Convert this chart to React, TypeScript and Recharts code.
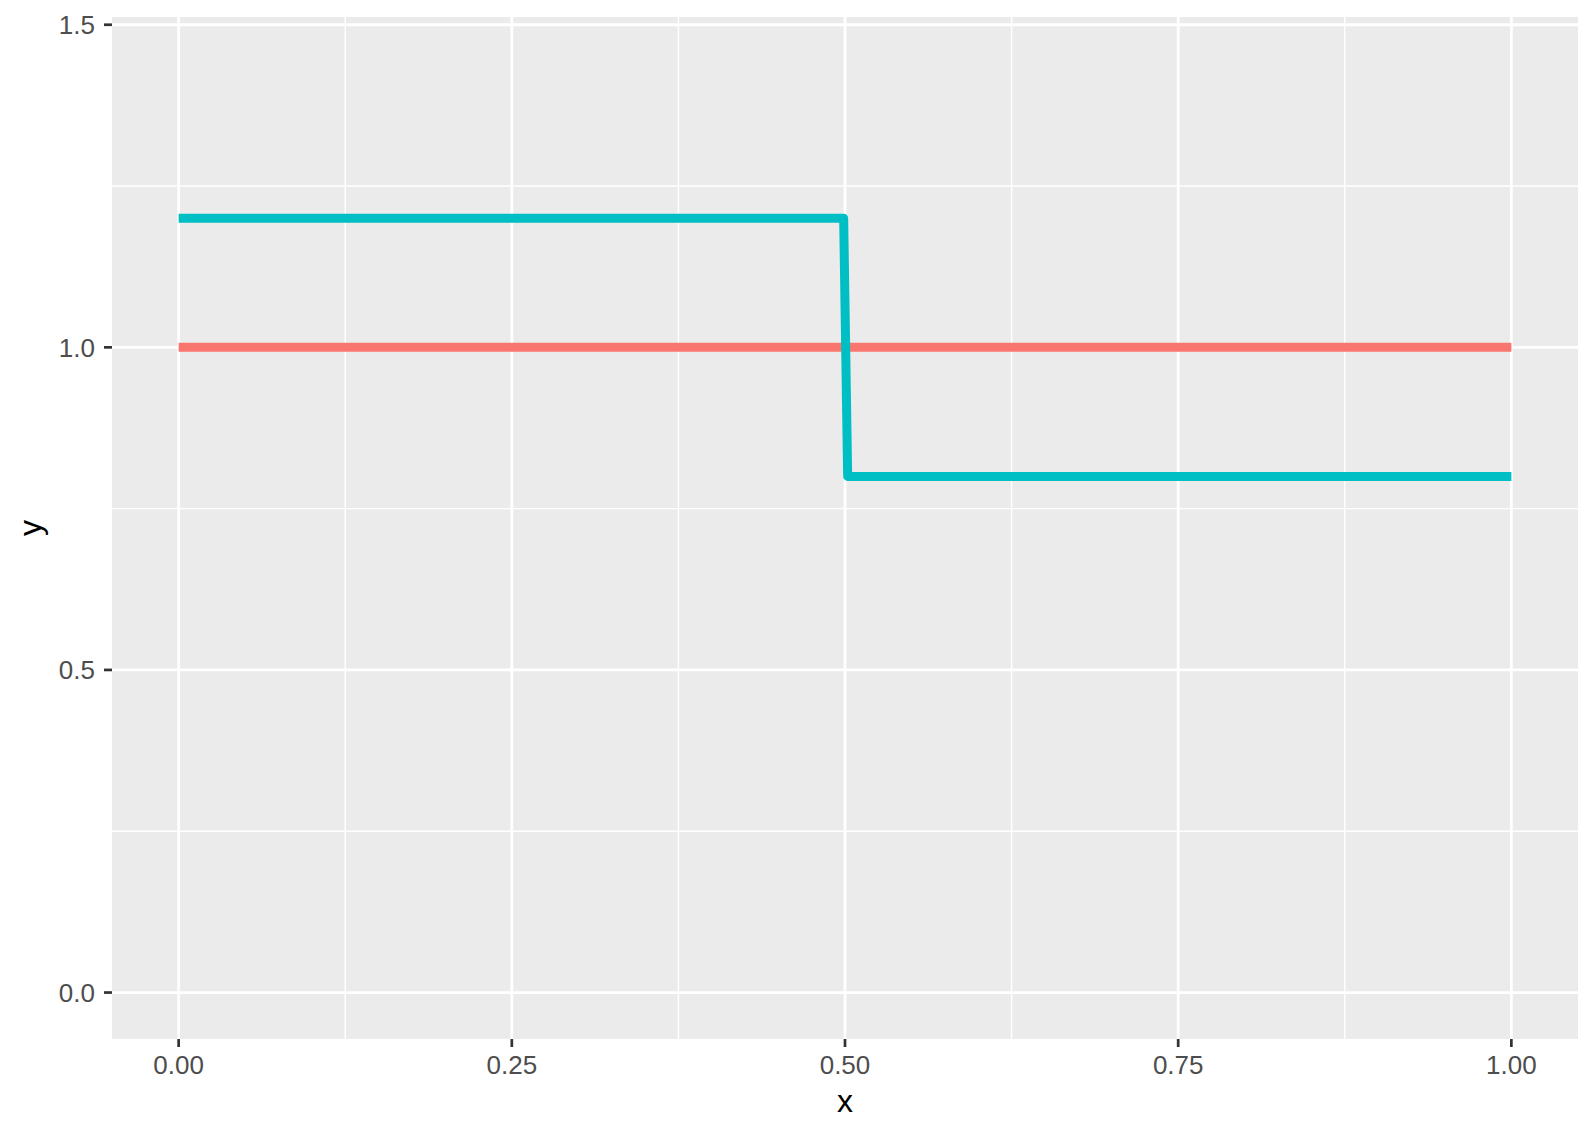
import React from 'react';
import {
  LineChart,
  Line,
  XAxis,
  YAxis,
  CartesianGrid,
  Label,
} from 'recharts';

// Données
const redX = [0, 1];
const redY = [1, 1];
const cyanX = [0, 0.499, 0.502, 1];
const cyanY = [1.2, 1.2, 0.8, 0.8];

const xTicks = [0, 0.25, 0.5, 0.75, 1];
const xMinor = [0.125, 0.375, 0.625, 0.875];
const yTicks = [0, 0.5, 1, 1.5];
const yMinor = [0.25, 0.75, 1.25];

const redData = redX.map((x, i) => ({ x, y: redY[i] }));
const cyanData = cyanX.map((x, i) => ({ x, y: cyanY[i] }));

const FONT = '"Liberation Sans", Arial, sans-serif';

const App = () => {
  return (
    <div style={{ position: 'absolute', left: 0, top: 0, fontFamily: FONT }}>
      <LineChart
        width={1595}
        height={1138}
        margin={{ top: 17, right: 17, left: 0, bottom: 0 }}
      >
        {/* fond du panneau + grille mineure */}
        <CartesianGrid
          fill="#EBEBEB"
          stroke="#FFFFFF"
          strokeWidth={1.4}
          horizontalValues={yMinor}
          verticalValues={xMinor}
        />
        {/* grille majeure */}
        <CartesianGrid
          stroke="#FFFFFF"
          strokeWidth={2.8}
          horizontalValues={yTicks}
          verticalValues={xTicks}
        />
        <XAxis
          type="number"
          dataKey="x"
          domain={[-0.05, 1.05]}
          allowDataOverflow
          ticks={xTicks}
          tickFormatter={(v: number) => v.toFixed(2)}
          height={99}
          axisLine={false}
          tickSize={8}
          tickMargin={9}
          tickLine={{ stroke: '#333333', strokeWidth: 2.7 }}
          tick={{ fill: '#4D4D4D', fontSize: 26, fontFamily: FONT }}
        >
          <Label
            value="x"
            position="insideBottom"
            offset={26}
            style={{ fill: '#000000', fontSize: 32, fontFamily: FONT }}
          />
        </XAxis>
        <YAxis
          type="number"
          dataKey="y"
          domain={[-0.072, 1.512]}
          allowDataOverflow
          ticks={yTicks}
          tickFormatter={(v: number) => v.toFixed(1)}
          width={112}
          axisLine={false}
          tickSize={8}
          tickMargin={9}
          tickLine={{ stroke: '#333333', strokeWidth: 2.7 }}
          tick={{ fill: '#4D4D4D', fontSize: 26, fontFamily: FONT }}
        >
          <Label
            content={(props: any) => {
              const vb = props.viewBox || {};
              const cx = 41;
              const cy = (vb.y || 0) + (vb.height || 0) / 2;
              return (
                <text
                  x={cx}
                  y={cy}
                  transform={`rotate(-90, ${cx}, ${cy})`}
                  textAnchor="middle"
                  fill="#000000"
                  fontSize={32}
                  fontFamily={FONT}
                >
                  y
                </text>
              );
            }}
          />
        </YAxis>
        <Line
          data={redData}
          dataKey="y"
          type="linear"
          stroke="#F8766D"
          strokeWidth={9}
          strokeLinecap="butt"
          strokeLinejoin="round"
          dot={false}
          activeDot={false}
          isAnimationActive={false}
        />
        <Line
          data={cyanData}
          dataKey="y"
          type="linear"
          stroke="#00BFC4"
          strokeWidth={9}
          strokeLinecap="butt"
          strokeLinejoin="round"
          dot={false}
          activeDot={false}
          isAnimationActive={false}
        />
      </LineChart>
    </div>
  );
};

export default App;
